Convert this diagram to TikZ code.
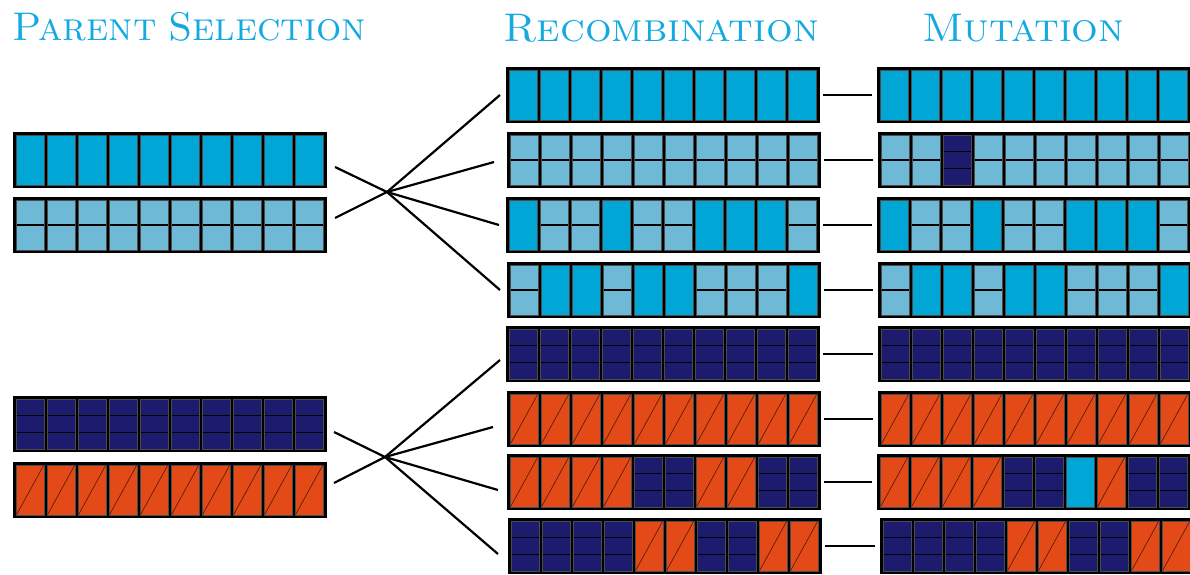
\documentclass[tikz,border=0pt]{standalone}
\usepackage{tikz}
\definecolor{cyanc}{RGB}{0,166,214}
\definecolor{lightc}{RGB}{110,185,213}
\definecolor{navyc}{RGB}{28,27,110}
\definecolor{orangec}{RGB}{228,74,24}
\definecolor{titlec}{RGB}{20,170,225}
\tikzset{
  chrombox/.style={rectangle, fill=black, inner sep=0pt, minimum width=314pt, minimum height=56pt},
  cellbase/.style={draw=black!70, line width=0.4pt},
  fanline/.style={line width=2.2pt, black},
  linkline/.style={line width=2.6pt, black},
  titletext/.style={text=titlec, font=\fontsize{40}{42}\selectfont\scshape, anchor=base west, inner sep=0pt, xscale=1.05}
}
\newcommand\cellC[2]{\filldraw[cellbase, fill=cyanc] (#1,#2) rectangle ++(27.2,49.5);}
\newcommand\cellL[2]{\filldraw[cellbase, fill=lightc] (#1,#2) rectangle ++(27.2,49.5);
  \draw[black, line width=1.6pt] (#1,#2+24.75) -- ++(27.2,0);}
\newcommand\cellN[2]{\filldraw[cellbase, fill=navyc] (#1,#2) rectangle ++(27.2,49.5);
  \draw[black, line width=1pt] (#1,#2+16.5) -- ++(27.2,0) (#1,#2+33) -- ++(27.2,0);}
\newcommand\cellO[2]{\filldraw[cellbase, fill=orangec] (#1,#2) rectangle ++(27.2,49.5);
  \draw[black!60!orangec, line width=0.7pt] (#1,#2+49.5) -- (#1+27.2,#2);}
\newcommand\chrom[4]{%
  \node[chrombox] (#1) at (#2+157,#3+28) {};
  \foreach \t [count=\i from 0] in {#4} {
    \pgfmathsetmacro\cx{#2+3.5+\i*31.0}
    \csname cell\t\endcsname{\cx}{#3+3.25}
  }
}
\begin{document}
\begin{tikzpicture}[x=1pt,y=-1pt]
\useasboundingbox (0,0) rectangle (1190,574);
% titles
\node[titletext, xscale=0.946] (t1) at (12,40) {Parent\hspace{12pt}Selection};
\node[titletext] (t2) at (503,41) {Recombination};
\node[titletext] (t3) at (922,41) {Mutation};
% parents
\chrom{P1}{13}{132}{C,C,C,C,C,C,C,C,C,C}
\chrom{P2}{13}{197}{L,L,L,L,L,L,L,L,L,L}
\chrom{P3}{13}{396}{N,N,N,N,N,N,N,N,N,N}
\chrom{P4}{13}{462}{O,O,O,O,O,O,O,O,O,O}
% recombination
\chrom{R1}{506}{67}{C,C,C,C,C,C,C,C,C,C}
\chrom{R2}{507}{132}{L,L,L,L,L,L,L,L,L,L}
\chrom{R3}{506}{197}{C,L,L,C,L,L,C,C,C,L}
\chrom{R4}{507}{262}{L,C,C,L,C,C,L,L,L,C}
\chrom{R5}{506}{326}{N,N,N,N,N,N,N,N,N,N}
\chrom{R6}{507}{391}{O,O,O,O,O,O,O,O,O,O}
\chrom{R7}{507}{454}{O,O,O,O,N,N,O,O,N,N}
\chrom{R8}{508}{518}{N,N,N,N,O,O,N,N,O,O}
% mutation
\chrom{M1}{877}{67}{C,C,C,C,C,C,C,C,C,C}
\chrom{M2}{878}{132}{L,L,N,L,L,L,L,L,L,L}
\chrom{M3}{877}{197}{C,L,L,C,L,L,C,C,C,L}
\chrom{M4}{878}{262}{L,C,C,L,C,C,L,L,L,C}
\chrom{M5}{878}{326}{N,N,N,N,N,N,N,N,N,N}
\chrom{M6}{878}{391}{O,O,O,O,O,O,O,O,O,O}
\chrom{M7}{877}{454}{O,O,O,O,N,N,C,O,N,N}
\chrom{M8}{880}{518}{N,N,N,N,O,O,N,N,O,O}
% links recombination -> mutation
\foreach \k in {1,...,8} {
  \draw[linkline, shorten <=3pt, shorten >=5pt] (R\k.east) -- (R\k.east -| M\k.west);
}
% fan coordinates, top group
\coordinate (a1) at (335,167);
\coordinate (a2) at (335,218);
\coordinate (X1) at (387,192);
\coordinate (e1) at (500,95);
\coordinate (e2) at (494,162);
\coordinate (e3) at (499,225);
\coordinate (e4) at (500,290);
% bottom group
\coordinate (b1) at (334,432);
\coordinate (b2) at (334,483);
\coordinate (X2) at (385,457);
\coordinate (f1) at (500,360);
\coordinate (f2) at (493,427);
\coordinate (f3) at (498,490);
\coordinate (f4) at (498,554);
\draw[fanline] (a1) -- (X1); \draw[fanline] (a2) -- (X1);
\foreach \k in {1,...,4} {\draw[fanline] (X1) -- (e\k);}
\draw[fanline] (b1) -- (X2); \draw[fanline] (b2) -- (X2);
\foreach \k in {1,...,4} {\draw[fanline] (X2) -- (f\k);}
\end{tikzpicture}
\end{document}
